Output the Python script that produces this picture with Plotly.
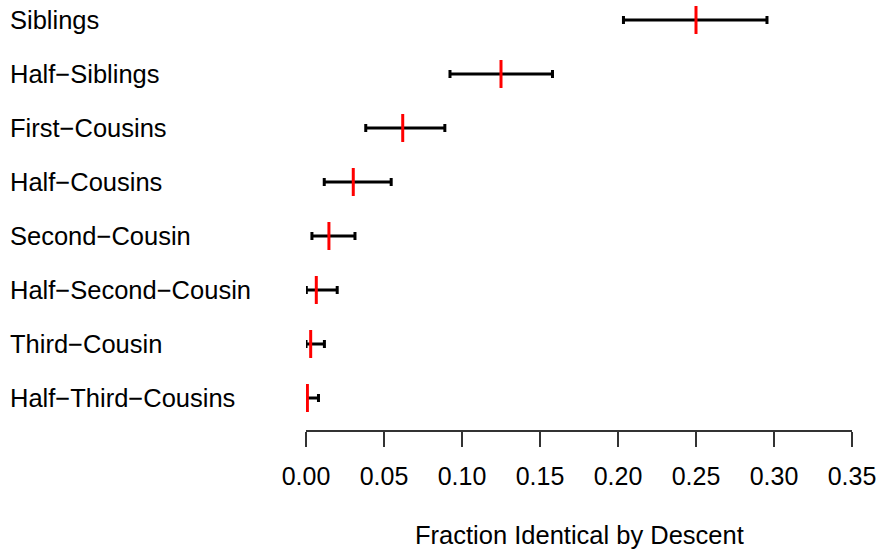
import plotly.graph_objects as go

categories = ["Siblings", "Half\u2212Siblings", "First\u2212Cousins", "Half\u2212Cousins",
              "Second\u2212Cousin", "Half\u2212Second\u2212Cousin", "Third\u2212Cousin",
              "Half\u2212Third\u2212Cousins"]
mean_ibd = [0.25, 0.125, 0.0620, 0.0303, 0.0147, 0.0066, 0.0030, 0.0009]
lower_ibd = [0.2035, 0.0923, 0.0383, 0.0117, 0.0038, 0.0002, 0.0, 0.0]
upper_ibd = [0.2955, 0.158, 0.0890, 0.0546, 0.0314, 0.0200, 0.0118, 0.0080]
x_ticks = [0.00, 0.05, 0.10, 0.15, 0.20, 0.25, 0.30, 0.35]
x_title = "Fraction Identical by Descent"

n = len(categories)
ypos = [n - i for i in range(n)]

W, H = 879, 550
ml, mr, mt, mb = 306, 27, 4, 120
plot_w = W - ml - mr

fig = go.Figure()
fig.add_trace(go.Scatter(
    x=mean_ibd, y=ypos, mode="markers",
    marker=dict(symbol="line-ns", size=20, color="red",
                line=dict(color="red", width=3)),
    error_x=dict(type="data", symmetric=False,
                 array=[u - m for u, m in zip(upper_ibd, mean_ibd)],
                 arrayminus=[m - l for m, l in zip(mean_ibd, lower_ibd)],
                 color="black", thickness=3, width=4),
    showlegend=False, hoverinfo="skip",
))

font = "Liberation Sans, Arial, Helvetica, sans-serif"
annotations = []
for c, y in zip(categories, ypos):
    annotations.append(dict(
        x=(8 - ml) / plot_w, xref="paper", y=y, yref="y",
        text=c, showarrow=False, xanchor="left", yanchor="middle",
        font=dict(family=font, size=25.5, color="black")))
annotations.append(dict(
    x=0.5, xref="paper", y=(430 - 535) / (H - mt - mb), yref="paper",
    text=x_title, showarrow=False, xanchor="center", yanchor="middle",
    font=dict(family=font, size=25.5, color="black")))

fig.update_layout(
    width=W, height=H,
    margin=dict(l=ml, r=mr, t=mt, b=mb, pad=0),
    plot_bgcolor="white", paper_bgcolor="white",
    annotations=annotations,
    xaxis=dict(range=[0, 0.35], tickvals=x_ticks,
               ticktext=[f"{v:.2f}" for v in x_ticks],
               showgrid=False, zeroline=False,
               showline=True, linecolor="#333333", linewidth=1.5,
               ticks="outside", ticklen=15, tickwidth=1.5, tickcolor="#333333",
               ticklabelstandoff=8,
               tickfont=dict(family=font, size=25, color="black")),
    yaxis=dict(range=[0.407, 8.296], showgrid=False, zeroline=False,
               showline=False, showticklabels=False, ticks=""),
)

fig.write_html("out.html")
